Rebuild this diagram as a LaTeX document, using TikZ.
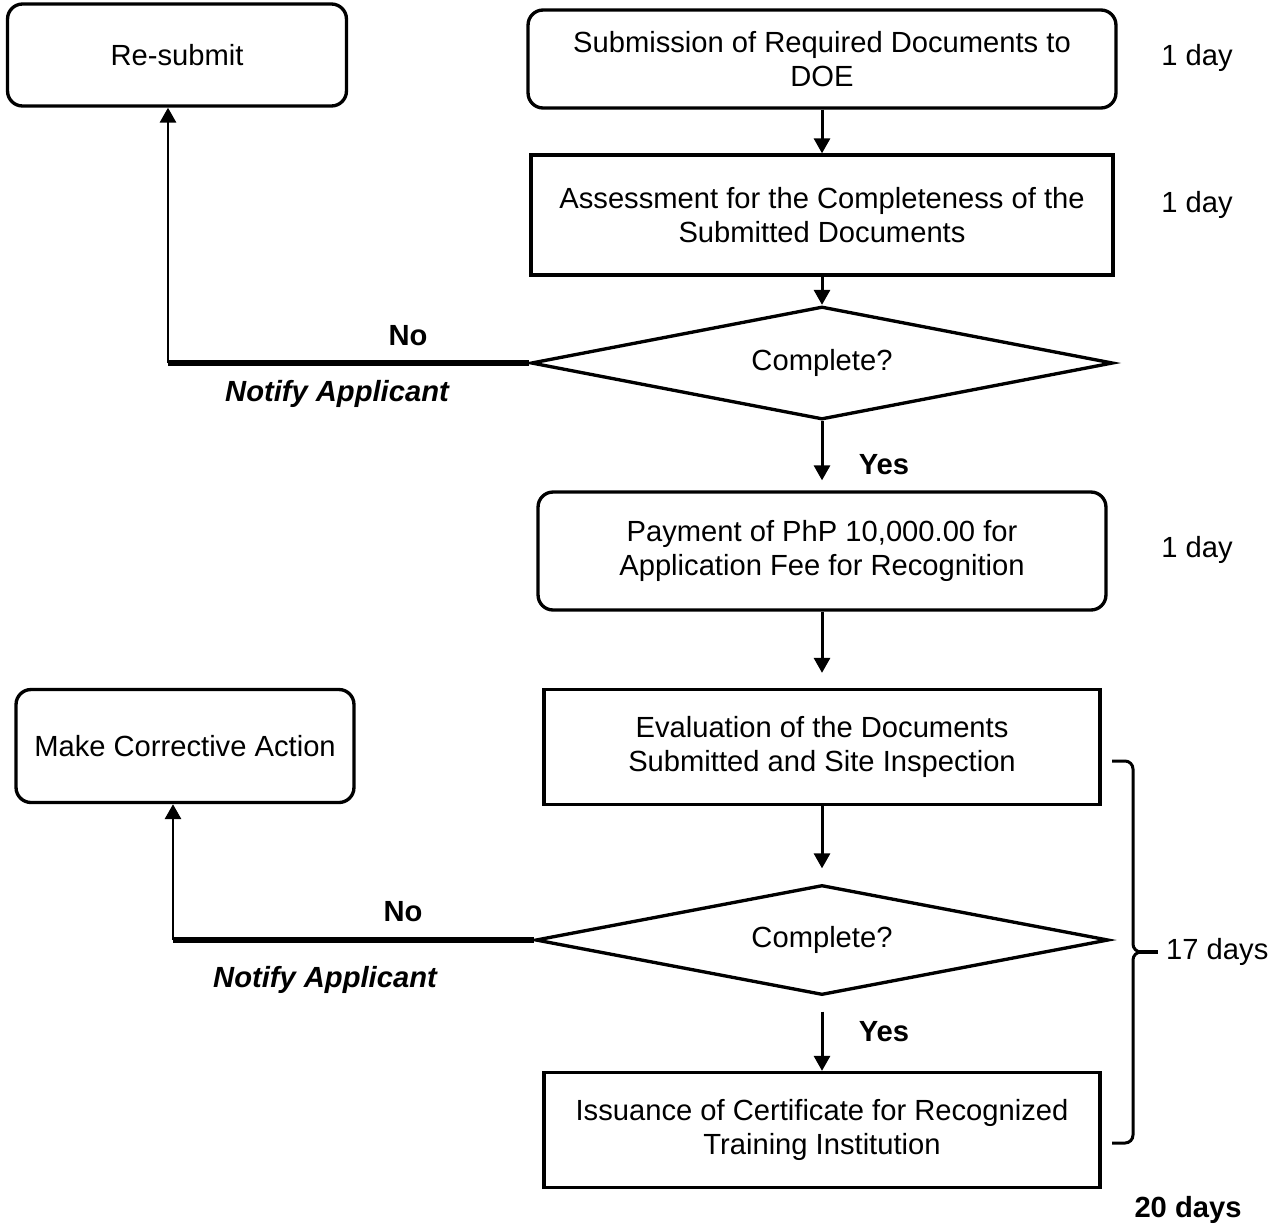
\documentclass[tikz,border=0pt]{standalone}
\usepackage{fontspec}
\setmainfont{Liberation Sans}
\usetikzlibrary{shapes.geometric,arrows.meta}

\tikzset{
  flow/.style={draw,line width=1.9pt,align=center,inner sep=0pt,font=\fontsize{16.6}{19.4}\selectfont},
  roundbox/.style={flow,rounded corners=0.3cm},
  squarebox/.style={flow},
  decide/.style={flow,diamond,aspect=5},
  link/.style={->,line width=1.7pt,>={Triangle[length=0.3cm,width=0.32cm]}},
  note/.style={font=\fontsize{16.6}{19.4}\selectfont},
  boldnote/.style={font=\fontsize{16.6}{19.4}\selectfont\bfseries},
  notify/.style={font=\fontsize{16.6}{19.4}\selectfont\bfseries\itshape}
}

\begin{document}
\begin{tikzpicture}[x=0.02cm,y=-0.02cm]
\useasboundingbox (0,0) rectangle (1274,1225);

% main column
\node[roundbox,minimum width=11.76cm,minimum height=1.96cm] (submit) at (822,59) {Submission of Required Documents to\\DOE};
\node[squarebox,minimum width=11.64cm,minimum height=2.4cm] (assess) at (822,215) {Assessment for the Completeness of the\\Submitted Documents};
\node[decide,minimum width=11.64cm,minimum height=2.26cm] (check1) at (822,363) {Complete?};
\node[roundbox,minimum width=11.36cm,minimum height=2.36cm] (pay) at (822,551) {Payment of PhP 10,000.00 for\\Application Fee for Recognition};
\node[squarebox,minimum width=11.12cm,minimum height=2.3cm] (eval) at (822,747) {Evaluation of the Documents\\Submitted and Site Inspection};
\node[decide,minimum width=11.46cm,minimum height=2.2cm] (check2) at (822,940) {Complete?};
\node[squarebox,minimum width=11.12cm,minimum height=2.3cm] (issue) at (822,1130) {Issuance of Certificate for Recognized\\Training Institution};

% side boxes
\node[roundbox,minimum width=6.78cm,minimum height=2.04cm] (resub) at (177,55) {Re-submit};
\node[roundbox,minimum width=6.76cm,minimum height=2.26cm] (fix) at (185,746) {Make Corrective Action};

% durations
\node[note] (day1) at (1197,58) {1 day};
\node[note] (day2) at (1197,205) {1 day};
\node[note] (day3) at (1197,550) {1 day};
\node[note,anchor=west] (day17) at (1160,952) {17 days};
\node[boldnote] (day20) at (1188,1210) {20 days};

% branch labels
\node[boldnote] (no1) at (408,336) {No};
\node[notify] (notify1) at (337,394) {Notify Applicant};
\node[boldnote] (yes1) at (884,465) {Yes};
\node[boldnote] (no2) at (403,912) {No};
\node[notify] (notify2) at (325,980) {Notify Applicant};
\node[boldnote] (yes2) at (884,1032) {Yes};

\draw[link] (submit) -- (assess);
\draw[link] (assess) -- (check1);
\draw[link,shorten >=0.2cm] (check1) -- (pay);
\draw[link,shorten >=0.3cm] (pay) -- (eval);
\draw[link,shorten >=0.3cm] (eval) -- (check2);
\draw[link,shorten <=0.3cm] (check2) -- (issue);

\coordinate (turn1) at (168,363);
\draw[line width=3pt] (check1.west) -- (turn1);
\draw[link] (turn1) -- (turn1 |- resub.south);
\coordinate (turn2) at (173,940);
\draw[line width=3pt] (check2.west) -- (turn2);
\draw[link] (turn2) -- (turn2 |- fix.south);

% brace
\draw[line width=1.7pt,rounded corners=0.16cm] (1112,761) -- (1133,761) -- (1133,952) -- (1145,952);
\draw[line width=1.7pt,rounded corners=0.16cm] (1112,1143) -- (1133,1143) -- (1133,952) -- (1145,952);
\draw[line width=2.8pt] (1140,952) -- (1158,952);
\end{tikzpicture}
\end{document}
